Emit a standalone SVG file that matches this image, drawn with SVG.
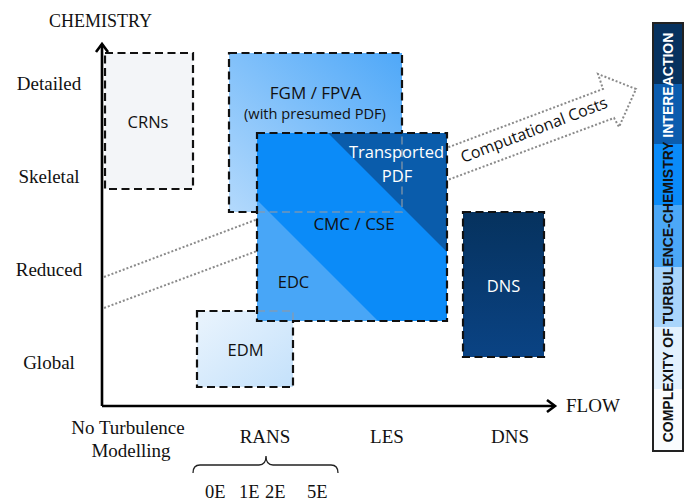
<svg xmlns="http://www.w3.org/2000/svg" width="691" height="501" viewBox="0 0 691 501">
  <defs>
    <linearGradient id="gFgm" x1="0" y1="1" x2="1" y2="0">
      <stop offset="0" stop-color="#b3d9fc"/>
      <stop offset="1" stop-color="#4fa8f8"/>
    </linearGradient>
    <linearGradient id="gEdm" x1="0" y1="0" x2="1" y2="1">
      <stop offset="0" stop-color="#eaf4fd"/>
      <stop offset="1" stop-color="#c4e1fb"/>
    </linearGradient>
    <linearGradient id="gDns" x1="0" y1="0" x2="0" y2="1">
      <stop offset="0" stop-color="#06325e"/>
      <stop offset="1" stop-color="#0a4384"/>
    </linearGradient>
    <clipPath id="cmcClip">
      <rect x="257" y="133" width="190" height="188"/>
    </clipPath>
  </defs>
  <style>
    .serif { font-family: "Liberation Serif", "Times New Roman", serif; font-size: 19px; fill: #111; }
    .lbl { font-family: "Open Sans", "Liberation Sans", sans-serif; font-size: 16.5px; fill: #111; text-anchor: middle; }
    .wht { fill: #fff; }
    .box { stroke: #111; stroke-width: 2.2; stroke-dasharray: 8 4.5; }
    .ghost { fill: none; stroke: #8c9aa8; stroke-width: 2; stroke-dasharray: 8 4.5; opacity: 0.6; }
    .axis { fill: none; stroke: #000; stroke-width: 2.6; }
    .dots { fill: none; stroke: #8a8a8a; stroke-width: 2; stroke-dasharray: 2 2; }
  </style>

  <rect width="691" height="501" fill="#fff"/>

  <!-- computational cost arrow, drawn behind the boxes -->
  <g id="cost-arrow">
    <polyline class="dots" points="104,277 603,89 598,74 636,89 619,127 614,118 104,308"/>
    <text class="lbl" transform="translate(536,135) rotate(-21)" style="font-size:16px">Computational Costs</text>
  </g>

  <g id="crns">
    <rect class="box" x="105" y="53" width="88" height="136" fill="#f3f5f8"/>
    <text class="lbl" x="148" y="128">CRNs</text>
  </g>

  <g id="fgm">
    <rect class="box" x="229" y="53" width="173" height="159" fill="url(#gFgm)"/>
    <text class="lbl" x="315.5" y="99" style="font-size:17px">FGM / FPVA</text>
    <text class="lbl" x="315" y="119" style="font-size:14.6px">(with presumed PDF)</text>
  </g>

  <g id="edm">
    <rect class="box" x="197" y="311" width="96" height="76" fill="url(#gEdm)"/>
    <text class="lbl" x="245.5" y="356">EDM</text>
  </g>

  <g id="cmc">
    <g clip-path="url(#cmcClip)">
      <rect x="257" y="133" width="190" height="188" fill="#0b8bf8"/>
      <polygon points="328,133 447,133 447,252" fill="#0a5cab"/>
      <polygon points="257,200 378,321 257,321" fill="#48a6f7"/>
    </g>
    <!-- edges of the boxes lying underneath -->
    <path class="ghost" d="M257,212 H402 V133"/>
    <path class="ghost" d="M257,311 H293 V321"/>
    <rect class="box" x="257" y="133" width="190" height="188" fill="none"/>
    <text class="lbl wht" x="396.5" y="158">Transported</text>
    <text class="lbl wht" x="397" y="182">PDF</text>
    <text class="lbl" x="354" y="230" style="font-size:17px">CMC / CSE</text>
    <text class="lbl" x="293.5" y="288">EDC</text>
  </g>

  <g id="dns">
    <rect class="box" x="463" y="212" width="81" height="145" fill="url(#gDns)"/>
    <text class="lbl wht" x="503.5" y="292">DNS</text>
  </g>

  <!-- axes -->
  <g id="axes">
    <path class="axis" d="M102,406 V44 M102,406 H554"/>
    <path class="axis" d="M96,52 L102,44 L108,52"/>
    <path class="axis" d="M547,400 L555,406 L547,412"/>
    <text class="serif" x="100.5" y="27" text-anchor="middle" style="font-size:18px">CHEMISTRY</text>
    <text class="serif" x="566" y="412">FLOW</text>
    <text class="serif" x="49" y="90" text-anchor="middle">Detailed</text>
    <text class="serif" x="49" y="183" text-anchor="middle">Skeletal</text>
    <text class="serif" x="49" y="276" text-anchor="middle">Reduced</text>
    <text class="serif" x="49" y="369" text-anchor="middle">Global</text>
    <text class="serif" x="128" y="434" text-anchor="middle">No Turbulence</text>
    <text class="serif" x="131" y="457" text-anchor="middle">Modelling</text>
    <text class="serif" x="265" y="443" text-anchor="middle">RANS</text>
    <text class="serif" x="387" y="443" text-anchor="middle">LES</text>
    <text class="serif" x="510" y="443" text-anchor="middle">DNS</text>
    <path d="M193,473 Q193,465 200,465 L259,465 Q266,465 266,456 Q266,465 273,465 L331,465 Q338,465 338,473" fill="none" stroke="#222" stroke-width="1.3"/>
    <g style="font-size:18.5px">
      <text class="serif" x="205" y="498" style="font-size:18.5px">0E</text>
      <text class="serif" x="239" y="498" style="font-size:18.5px">1E</text>
      <text class="serif" x="265" y="498" style="font-size:18.5px">2E</text>
      <text class="serif" x="307" y="498" style="font-size:18.5px">5E</text>
    </g>
  </g>

  <!-- complexity scale -->
  <g id="complexity-bar">
    <rect x="653" y="23" width="30" height="62" fill="#07325f"/>
    <rect x="653" y="84" width="30" height="61" fill="#0b5cae"/>
    <rect x="653" y="144" width="30" height="62" fill="#0a8bf9"/>
    <rect x="653" y="205" width="30" height="63" fill="#4ca8f7"/>
    <rect x="653" y="267" width="30" height="61" fill="#a9d5fb"/>
    <rect x="653" y="327" width="30" height="63" fill="#e3f1fd"/>
    <rect x="653" y="389" width="30" height="62" fill="#fafcfe"/>
    <rect x="653" y="23" width="30" height="428" fill="none" stroke="#222" stroke-width="2"/>
    <text transform="translate(673,237.5) rotate(-90)" text-anchor="middle" font-family="Liberation Sans, Arial, sans-serif" font-weight="bold" font-size="14"><tspan fill="#111">COMPLEXITY OF TURBULENCE-CHEMISTRY </tspan><tspan fill="#fff">INTEREACTION</tspan></text>
  </g>
</svg>
